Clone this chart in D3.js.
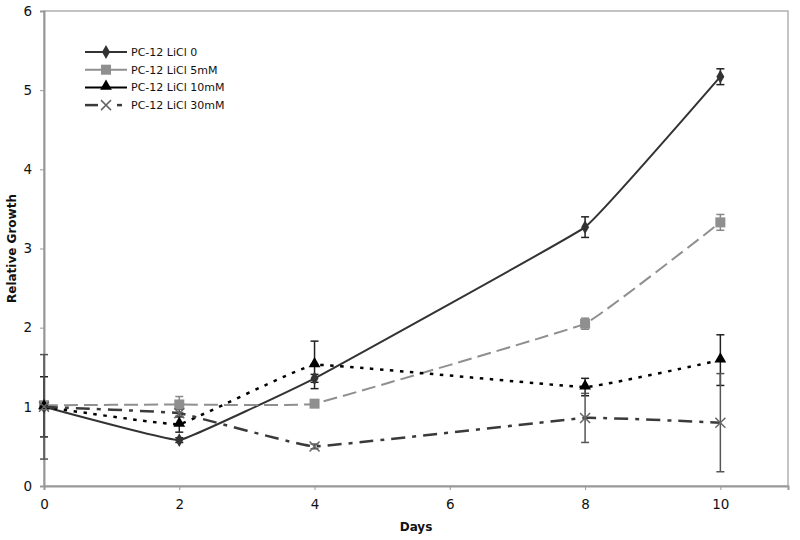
<!DOCTYPE html>
<html>
<head>
<meta charset="utf-8">
<script src="https://cdn.jsdelivr.net/npm/d3@7"></script>
<style>
  body { margin: 0; background: #fff; }
  svg text { font-family: "DejaVu Sans", Verdana, sans-serif; fill: #111; }
</style>
</head>
<body>
<svg id="chart" width="800" height="540"></svg>
<script>
// values
var days = [0, 2, 4, 8, 10];
var seriesNames = ["PC-12 LiCl 0", "PC-12 LiCl 5mM", "PC-12 LiCl 10mM", "PC-12 LiCl 30mM"];
var growth0  = [1.00, 0.58, 1.36, 3.27, 5.17];
var growth5  = [1.02, 1.03, 1.04, 2.05, 3.33];
var growth10 = [1.00, 0.78, 1.53, 1.25, 1.59];
var growth30 = [1.00, 0.92, 0.50, 0.86, 0.80];
var err0  = [0.03, 0.03, 0.05, 0.13, 0.10];
var err5  = [0.05, 0.10, 0.03, 0.07, 0.10];
var err10 = [0.38, 0.10, 0.30, 0.11, 0.32];
var err30 = [0.66, 0.05, 0.03, 0.31, 0.62];
var yTicks = [0, 1, 2, 3, 4, 5, 6];
var xTicks = [0, 2, 4, 6, 8, 10];

var styles = [
  {color: "#333", dash: null, width: 2, marker: "diamond"},
  {color: "#8f8f8f", dash: "14,6", width: 2, marker: "square"},
  {color: "#000", dash: "3.5,6.5", width: 2.5, marker: "triangle"},
  {color: "#3a3a3a", dash: "14,7,4,7", width: 2.5, marker: "x"}
];
var allValues = [growth0, growth5, growth10, growth30];
var allErrors = [err0, err5, err10, err30];

var svg = d3.select('#chart');
// NB: "top" is taken by window.top, so plot edges get their own names
var plotL = 44, plotR = 788, plotT = 11, plotB = 486;

var x = d3.scaleLinear().domain([0, 11]).range([plotL, plotR]);
var y = d3.scaleLinear().domain([0, 6]).range([plotB, plotT]);

// plot frame
svg.append('rect')
  .attr('x', plotL).attr('y', plotT)
  .attr('width', plotR - plotL).attr('height', plotB - plotT)
  .attr('fill', 'none').attr('stroke', '#b0b0b0').attr('stroke-width', 1.5);

// axes
var yAxis = svg.append('g').attr('transform', 'translate(' + plotL + ',0)')
  .call(d3.axisLeft(y).tickValues(yTicks).tickSize(4).tickPadding(8).tickFormat(d3.format('d')));
var xAxis = svg.append('g').attr('transform', 'translate(0,' + plotB + ')')
  .call(d3.axisBottom(x).tickValues(xTicks).tickSize(4).tickPadding(9).tickFormat(d3.format('d')));
[yAxis, xAxis].forEach(function(ax){
  ax.select('.domain').attr('stroke', '#999').attr('stroke-width', 2);
  ax.selectAll('.tick line').attr('stroke', '#999');
  ax.selectAll('.tick text').attr('font-size', 13.5).attr('fill', '#111')
    .attr('font-family', '"DejaVu Sans", Verdana, sans-serif');
});

svg.append('text')
  .attr('x', (plotL + plotR) / 2).attr('y', 531)
  .attr('text-anchor', 'middle').attr('font-size', 12).attr('font-weight', 'bold')
  .text('Days');
svg.append('text')
  .attr('transform', 'translate(16,' + ((plotT + plotB) / 2) + ') rotate(-90)')
  .attr('text-anchor', 'middle').attr('font-size', 12).attr('font-weight', 'bold')
  .text('Relative Growth');

var drawMarker = function(g, type, cx, cy, color){
  if(type == "diamond"){
    g.append('path').attr('d', d3.symbol(d3.symbolDiamond, 55)())
      .attr('transform', 'translate(' + cx + ',' + cy + ')').attr('fill', color);
  }else if(type == "square"){
    g.append('rect').attr('x', cx - 5).attr('y', cy - 5).attr('width', 10).attr('height', 10)
      .attr('fill', color);
  }else if(type == "triangle"){
    g.append('path').attr('d', d3.symbol(d3.symbolTriangle, 60)())
      .attr('transform', 'translate(' + cx + ',' + (cy - 1) + ')').attr('fill', color);
  }else{
    g.append('path').attr('d', 'M-5,-5L5,5M-5,5L5,-5')
      .attr('transform', 'translate(' + cx + ',' + cy + ')')
      .attr('stroke', '#666').attr('stroke-width', 1.5).attr('fill', 'none');
  }
};

// only a touch of smoothing, the segments stay nearly straight
var line = d3.line().curve(d3.curveCardinal.tension(0.8))
  .x(function(d){ return x(d[0]); }).y(function(d){ return y(d[1]); });

// error bars first
allValues.forEach(function(vals, si){
  var g = svg.append('g');
  var ec = si == 1 ? '#888' : (si == 3 ? '#555' : '#222');
  days.forEach(function(day, i){
    var lo = y(vals[i] - allErrors[si][i]), hi = y(vals[i] + allErrors[si][i]);
    g.append('line').attr('x1', x(day)).attr('x2', x(day)).attr('y1', lo).attr('y2', hi)
      .attr('stroke', ec).attr('stroke-width', 1.5);
    [lo, hi].forEach(function(yy){
      g.append('line').attr('x1', x(day) - 4).attr('x2', x(day) + 4).attr('y1', yy).attr('y2', yy)
        .attr('stroke', ec).attr('stroke-width', 1.5);
    });
  });
});

// series lines and markers
allValues.forEach(function(vals, si){
  var st = styles[si];
  var g = svg.append('g');
  g.append('path').datum(days.map(function(d, i){ return [d, vals[i]]; }))
    .attr('d', line).attr('fill', 'none')
    .attr('stroke', st.color).attr('stroke-width', st.width)
    .attr('stroke-dasharray', st.dash);
  days.forEach(function(day, i){
    drawMarker(g, st.marker, x(day), y(vals[i]), st.color);
  });
});

// legend
var legend = svg.append('g');
seriesNames.forEach(function(name, i){
  var st = styles[i];
  var ly = 52 + i * 17.7;
  if(i == 3){
    legend.append('line').attr('x1', 85).attr('x2', 98).attr('y1', ly).attr('y2', ly)
      .attr('stroke', st.color).attr('stroke-width', 2.5);
    legend.append('line').attr('x1', 117).attr('x2', 122).attr('y1', ly).attr('y2', ly)
      .attr('stroke', st.color).attr('stroke-width', 2.5);
  }else{
    legend.append('line').attr('x1', 85).attr('x2', 127).attr('y1', ly).attr('y2', ly)
      .attr('stroke', st.color).attr('stroke-width', 2);
  }
  drawMarker(legend, st.marker, 106, ly, st.color);
  legend.append('text').attr('x', 131).attr('y', ly + 4)
    .attr('font-size', 11).attr('fill', '#111').text(name);
});
</script>
</body>
</html>
